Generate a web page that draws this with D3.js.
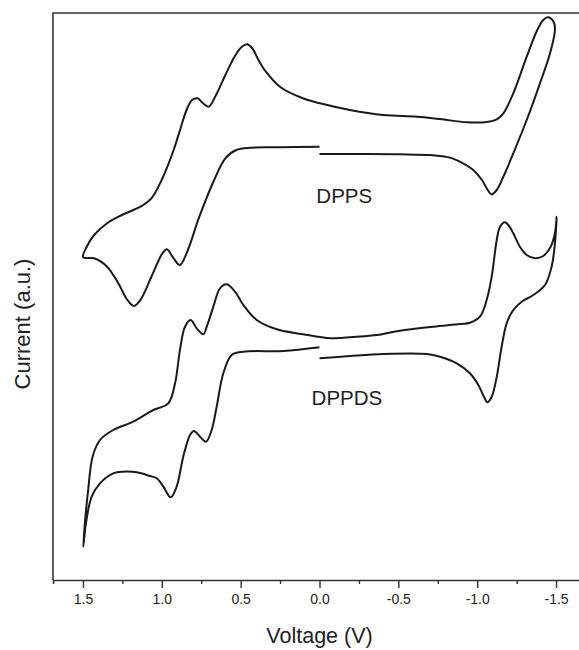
<!DOCTYPE html>
<html lang="en">
<head>
    <meta charset="UTF-8">
    <title>Cyclic voltammograms</title>
    <script src="https://d3js.org/d3.v7.min.js"></script>
    <style>
        body { margin: 0; background: white; }
        text { font-family: "Liberation Sans", Arial, sans-serif; }
    </style>
</head>
<body>
    <svg id="svg1" width="579" height="650" style="background: white"></svg>

    <script>
        // data ------------------------------------------------------------------
        // one scan each, starting at 0.0 V going negative, back round to 0.0 V
        const dppsVoltage = [0.00, -0.30, -0.51, -0.72, -0.83, -0.91, -0.975, -1.03, -1.067, -1.09,
            -1.124, -1.166, -1.229, -1.314, -1.398, -1.462, -1.493, -1.487, -1.451, -1.419,
            -1.381, -1.314, -1.229, -1.166, -1.124, -1.06, -0.933, -0.764, -0.616, -0.405,
            -0.193, -0.003, 0.106, 0.247, 0.34, 0.387, 0.422, 0.457, 0.492, 0.539,
            0.597, 0.656, 0.703, 0.738, 0.773, 0.808, 0.843, 0.878, 0.925, 0.996,
            1.066, 1.136, 1.253, 1.347, 1.429, 1.476, 1.499, 1.429, 1.347, 1.276,
            1.218, 1.178, 1.136, 1.066, 0.996, 0.968, 0.925, 0.886, 0.843, 0.762,
            0.668, 0.597, 0.528, 0.434, 0.247, 0.00];
        const dppsCurrent = [42.6, 42.6, 42.57, 42.47, 42.23, 41.67, 41.0, 40.0, 39.0, 38.57,
            39.0, 40.33, 42.67, 46.0, 49.67, 52.67, 55.0, 55.73, 56.27, 56.0,
            55.0, 52.33, 48.67, 46.67, 46.07, 45.8, 45.77, 46.1, 46.33, 46.5,
            47.0, 47.67, 48.17, 49.27, 50.83, 52.0, 53.07, 53.57, 53.33, 52.33,
            50.5, 48.5, 47.33, 47.67, 48.17, 48.0, 47.0, 45.33, 43.0, 40.17,
            38.17, 37.33, 36.5, 35.67, 34.5, 33.33, 32.27, 32.17, 31.33, 29.67,
            28.0, 27.4, 28.0, 30.33, 32.67, 33.07, 32.17, 31.5, 32.67, 36.33,
            40.0, 42.17, 43.0, 43.23, 43.27, 43.33];

        const dppdsVoltage = [0.00, -0.193, -0.405, -0.68, -0.764, -0.87, -0.954, -1.007, -1.043, -1.064,
            -1.092, -1.124, -1.155, -1.187, -1.229, -1.282, -1.356, -1.43, -1.472, -1.493,
            -1.504, -1.493, -1.466, -1.419, -1.367, -1.314, -1.271, -1.229, -1.197, -1.176,
            -1.145, -1.124, -1.092, -1.06, -1.018, -0.954, -0.891, -0.722, -0.51, -0.363,
            -0.151, -0.067, 0.103, 0.271, 0.398, 0.483, 0.536, 0.588, 0.631, 0.673,
            0.715, 0.737, 0.779, 0.817, 0.853, 0.885, 0.916, 0.959, 1.054, 1.181,
            1.308, 1.392, 1.439, 1.467, 1.488, 1.498, 1.481, 1.445, 1.392, 1.308,
            1.244, 1.159, 1.075, 1.032, 0.99, 0.944, 0.906, 0.864, 0.821, 0.796,
            0.758, 0.72, 0.684, 0.652, 0.61, 0.557, 0.483, 0.23, 0.00];
        const dppdsCurrent = [22.17, 22.4, 22.6, 22.6, 22.33, 21.67, 20.67, 19.5, 18.33, 17.77,
            18.33, 20.33, 23.33, 25.67, 27.0, 27.83, 28.5, 29.5, 31.33, 33.67,
            36.33, 34.67, 33.33, 32.4, 32.17, 32.5, 33.33, 34.67, 35.5, 35.77,
            35.33, 34.0, 30.33, 28.0, 26.33, 25.73, 25.6, 25.33, 24.93, 24.5,
            24.23, 24.17, 24.57, 25.07, 26.0, 27.5, 28.83, 29.57, 29.17, 27.33,
            25.33, 24.57, 25.17, 26.0, 25.33, 23.0, 19.67, 17.67, 17.0, 15.83,
            15.0, 14.0, 12.33, 9.0, 5.67, 3.33, 5.67, 8.33, 9.67, 10.67,
            10.83, 10.77, 10.4, 10.17, 9.33, 8.27, 9.33, 12.33, 14.5, 14.9,
            14.33, 13.83, 15.0, 17.33, 20.67, 22.5, 22.83, 22.9, 23.27];

        const majorTicks = [1.5, 1.0, 0.5, 0.0, -0.5, -1.0, -1.5];
        const minorTicks = [1.25, 0.75, 0.25, -0.25, -0.75, -1.25];
        const seriesNames = ["DPPS", "DPPDS"];

        // chart setup -----------------------------------------------------------
        const svg = d3.select("svg#svg1");
        const plot = {left: 53, right: 586, top: 13, bottom: 580};

        const x = d3.scaleLinear().domain([1.69, -1.69]).range([plot.left, plot.right]);
        const y = d3.scaleLinear().domain([0, 56.7]).range([plot.bottom, plot.top]);

        // frame: top and left lines (right side runs off the picture)
        svg.append("path")
            .attr("d", `M${plot.left},${plot.bottom} V${plot.top} H${plot.right}`)
            .attr("fill", "none")
            .attr("stroke", "#333")
            .attr("stroke-width", 1.6);

        // x axis
        const xAxis = d3.axisBottom(x)
            .tickValues(majorTicks)
            .tickFormat(d => d.toFixed(1))
            .tickSize(8)
            .tickSizeOuter(4)
            .tickPadding(6);
        const gx = svg.append("g")
            .attr("class", "x axis")
            .attr("transform", `translate(0, ${plot.bottom})`)
            .call(xAxis);
        gx.select(".domain").attr("stroke", "#333").attr("stroke-width", 1.6);
        gx.selectAll(".tick line").attr("stroke", "#333").attr("stroke-width", 1.4);
        gx.selectAll(".tick text")
            .attr("font-size", 14)
            .attr("font-family", "Liberation Sans, Arial, sans-serif")
            .attr("fill", "#222");

        const gxMinor = svg.append("g")
            .attr("class", "x minor")
            .attr("transform", `translate(0, ${plot.bottom})`)
            .call(d3.axisBottom(x).tickValues(minorTicks).tickSize(4).tickFormat(""));
        gxMinor.select(".domain").remove();
        gxMinor.selectAll(".tick line").attr("stroke", "#333").attr("stroke-width", 1.4);

        // axis labels
        svg.append("text")
            .text("Voltage (V)")
            .attr("x", x(0))
            .attr("y", 643)
            .attr("text-anchor", "middle")
            .attr("font-size", 21.5)
            .attr("fill", "#222");

        svg.append("text")
            .text("Current (a.u.)")
            .attr("transform", `translate(30, 324) rotate(-90)`)
            .attr("text-anchor", "middle")
            .attr("font-size", 22)
            .attr("fill", "#222");

        // curves ----------------------------------------------------------------
        const line = d3.line()
            .x(d => x(d[0]))
            .y(d => y(d[1]))
            .curve(d3.curveCatmullRom.alpha(0.5));

        const series = [
            d3.zip(dppsVoltage, dppsCurrent),
            d3.zip(dppdsVoltage, dppdsCurrent)
        ];

        svg.append("g").attr("id", "curves")
            .selectAll("path")
            .data(series)
            .join("path")
            .attr("d", line)
            .attr("fill", "none")
            .attr("stroke", "#1a1a1a")
            .attr("stroke-width", 2)
            .attr("stroke-linejoin", "round");

        // curve names
        const namePos = [[0.02, 37.7], [0.05, 17.5]];   // [V, a.u.] of text start
        svg.append("g").selectAll("text")
            .data(seriesNames)
            .join("text")
            .text(d => d)
            .attr("x", (d, i) => x(namePos[i][0]))
            .attr("y", (d, i) => y(namePos[i][1]))
            .attr("font-size", 20.5)
            .attr("fill", "#222");
    </script>
</body>
</html>
